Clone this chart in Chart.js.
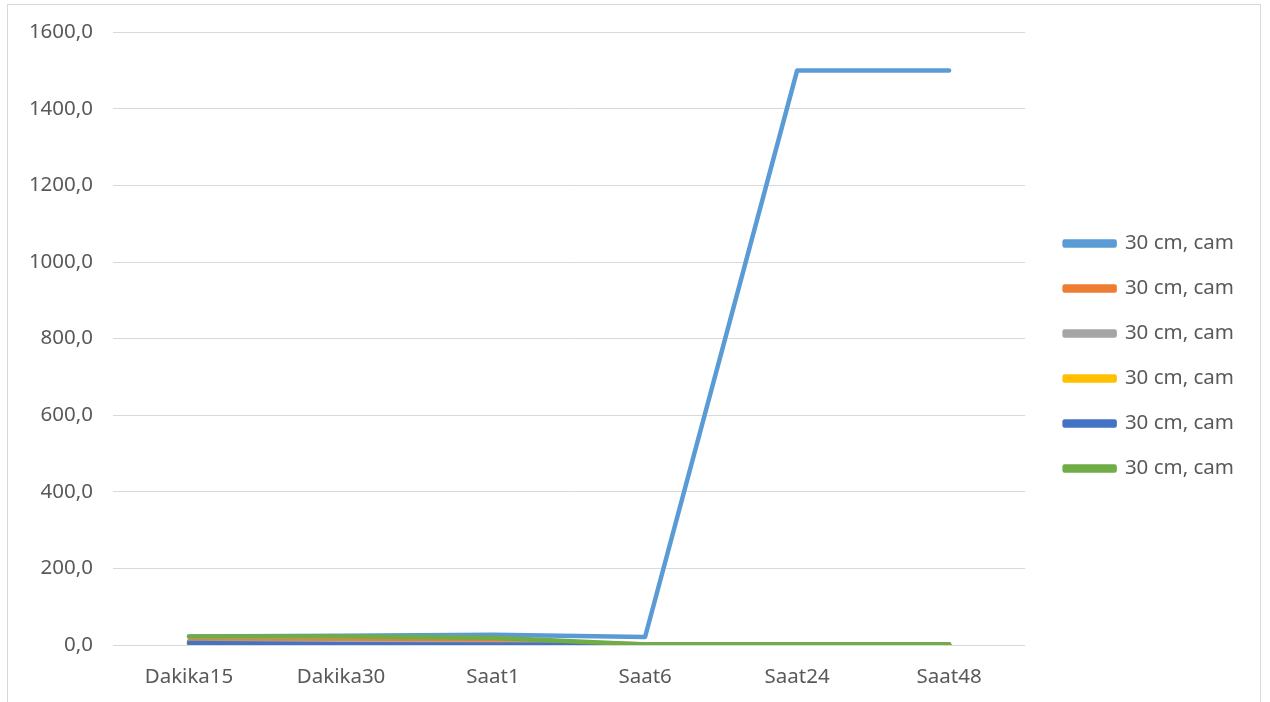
<!DOCTYPE html>
<html>
<head>
<meta charset="utf-8">
<script src="https://cdn.jsdelivr.net/npm/chart.js@4.4.1/dist/chart.umd.min.js"></script>
<style>
  html, body { margin: 0; padding: 0; background: #fff; }
  #wrap { position: relative; width: 1270px; height: 702px; overflow: hidden; }
  #frame { position: absolute; left: 7px; top: 4px; width: 1254px; height: 720px; border: 1px solid #d9d9d9; box-sizing: border-box; }
  #chart { position: absolute; left: 0; top: 0; }
</style>
</head>
<body>
<div id="wrap">
  <div id="frame"></div>
  <canvas id="chart" width="1270" height="702"></canvas>
</div>
<script>
const categories = ['Dakika15', 'Dakika30', 'Saat1', 'Saat6', 'Saat24', 'Saat48'];
const seriesNames = ['30 cm, cam', '30 cm, cam', '30 cm, cam', '30 cm, cam', '30 cm, cam', '30 cm, cam'];
const lightBlue = [22, 24, 27, 21, 1500, 1500];
const orange = [10, 12, 10, 2, 2, 2];
const gray = [6, 5, 4, 1, 1, 1];
const yellow = [1, 1, 1, 0.5, 0.5, 0.5];
const darkBlue = [5, 2, 1, 0.5, 0.5, 0.5];
const green = [22, 22, 19, 1, 1, 1];
const yTicks = [0, 200, 400, 600, 800, 1000, 1200, 1400, 1600];

const colors = ['#5b9bd5', '#ed7d31', '#a5a5a5', '#ffc000', '#4472c4', '#70ad47'];
const values = [lightBlue, orange, gray, yellow, darkBlue, green];

const textColor = '#595959';
const font = { family: '"Noto Sans", sans-serif', size: 20.5 };

const datasets = values.map((data, i) => ({
  label: seriesNames[i],
  data: data,
  borderColor: colors[i],
  backgroundColor: colors[i],
  borderWidth: 4.5,
  borderCapStyle: 'round',
  borderJoinStyle: 'round',
  pointRadius: 0,
  tension: 0,
  // later series sit on top, as in the original
  order: values.length - i,
}));

new Chart(document.getElementById('chart').getContext('2d'), {
  type: 'line',
  data: { labels: categories, datasets },
  options: {
    responsive: false,
    animation: false,
    layout: { padding: { top: 26, left: 10, right: 26, bottom: 16 } },
    plugins: {
      tooltip: { enabled: false },
      legend: {
        position: 'right',
        align: 'center',
        labels: {
          color: textColor,
          font: font,
          boxWidth: 50,
          boxHeight: 4,
          padding: 24.5,
          sort: (a, b) => a.datasetIndex - b.datasetIndex,
        },
      },
    },
    scales: {
      x: {
        offset: true,
        grid: { display: false, drawTicks: false },
        border: { display: false },
        ticks: { color: textColor, font: font, padding: 20, maxRotation: 0 },
        afterFit: (s) => { s.height = 41; },
      },
      y: {
        min: 0,
        max: 1600,
        afterBuildTicks: (s) => { s.ticks = yTicks.map((v) => ({ value: v })); },
        grid: { color: '#d9d9d9', lineWidth: 1, drawTicks: false },
        border: { display: false },
        ticks: {
          color: textColor,
          font: font,
          padding: 20,
          callback: (v) => v.toFixed(1).replace('.', ','),
        },
        afterFit: (s) => { s.width = 103; },
      },
      // empty spacer between the plot and the legend
      gap: {
        type: 'linear',
        position: 'right',
        grid: { display: false, drawTicks: false },
        border: { display: false },
        ticks: { display: false },
        afterFit: (s) => { s.width = 15; },
      },
    },
  },
});
</script>
</body>
</html>
